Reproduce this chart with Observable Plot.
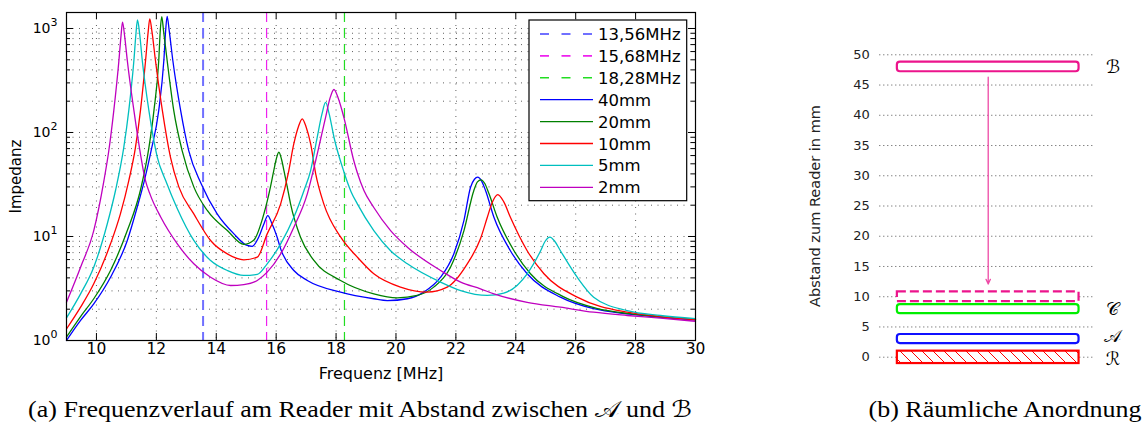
<!DOCTYPE html>
<html><head><meta charset="utf-8">
<script src="https://cdn.jsdelivr.net/npm/d3@7"></script>
<script src="https://cdn.jsdelivr.net/npm/@observablehq/plot@0.6"></script>
<style>
html,body{margin:0;padding:0;background:#fff;}
#root{position:relative;width:1147px;height:426px;overflow:hidden;background:#fff;}
.abs{position:absolute;}
.cap{position:absolute;font-family:"Liberation Serif","Times New Roman",serif;font-size:23px;line-height:23px;white-space:nowrap;transform:translateX(-50%) scaleX(1.13);transform-origin:center;color:#000;}
.math{font-family:"DejaVu Serif","DejaVu Sans","Noto Sans",serif;}
</style></head><body>
<div id="root">
  <div id="left" class="abs" style="left:0;top:0;"></div>
  <div id="legend" class="abs" style="left:528px;top:19px;"></div>
  <div id="right" class="abs" style="left:780px;top:0;"></div>
  <div class="cap" style="left:359.5px;top:397.5px;">(a) Frequenzverlauf am Reader mit Abstand zwischen <span class="math">𝒜</span> und <span class="math">ℬ</span></div>
  <div class="cap" style="left:1005px;top:397.5px;">(b) Räumliche Anordnung</div>
</div>
<script>
// ---------- data: left chart ----------
const freqTicks = [10, 12, 14, 16, 18, 20, 22, 24, 26, 28, 30];
const impedanceDecades = [1, 10, 100, 1000];
const decadeExponents = ["0", "1", "2", "3"];
const minorMultipliers = [2, 3, 4, 5, 6, 7, 8, 9];
const seriesNames = ["40mm", "20mm", "10mm", "5mm", "2mm"];
const seriesColors = ["#0000ff", "#008000", "#ff0000", "#00bfbf", "#bf00bf"];
const markerFreqs = [13.56, 15.68, 18.28];
const markerNames = ["13,56MHz", "15,68MHz", "18,28MHz"];
const markerColors = ["#7070ff", "#ee22ee", "#22dd22"];

const curve40mm = [[9.00,1.00],[9.47,1.56],[9.91,2.25],[10.47,4.06],[11.03,9.16],[11.36,19.1],[11.60,34.5],[11.82,66],[12.08,163],[12.25,492],[12.31,950],[12.36,1310],[12.43,950],[12.55,492],[12.81,163],[13.08,67],[13.50,32],[14.03,16.5],[14.59,10.6],[15.03,8.2],[15.20,8.05],[15.42,9.9],[15.59,13.2],[15.72,15.9],[15.85,13.5],[16.03,9.9],[16.15,7.6],[16.59,4.71],[17.04,3.78],[18.15,2.92],[19.26,2.52],[19.71,2.42],[20.38,2.52],[20.93,2.92],[21.49,4.06],[21.93,6.8],[22.27,14.3],[22.49,29.8],[22.62,35.5],[22.73,37.2],[22.85,34.5],[22.99,27.7],[23.27,15.3],[23.82,7.3],[24.38,4.38],[25.49,2.61],[26.60,2.02],[27.72,1.80],[28.83,1.67],[30.00,1.58]];
const curve20mm = [[9.00,1.08],[9.47,1.70],[9.91,2.52],[10.47,4.71],[11.03,11.4],[11.47,28],[11.75,71],[11.92,163],[12.08,492],[12.13,950],[12.18,1300],[12.24,950],[12.36,492],[12.58,163],[12.86,67],[13.25,30],[13.70,17.8],[14.37,11.4],[14.92,8.4],[15.25,9.2],[15.59,16.5],[15.81,30],[15.92,43],[16.00,55],[16.09,64.6],[16.18,55],[16.26,43],[16.37,30],[16.48,20.6],[16.81,9.9],[17.26,5.88],[18.15,3.78],[19.26,2.81],[20.04,2.57],[20.71,2.71],[21.26,3.26],[21.82,5.07],[22.27,11.4],[22.60,27.7],[22.72,33.5],[22.84,35.1],[22.96,32.5],[23.10,26],[23.38,15.3],[23.94,7.3],[24.49,4.38],[25.60,2.63],[26.70,2.04],[27.80,1.81],[28.90,1.68],[30.00,1.59]];
const curve10mm = [[9.00,1.29],[9.47,2.09],[9.91,3.51],[10.47,8.5],[10.80,16.5],[11.08,34.5],[11.30,71],[11.47,163],[11.64,492],[11.73,950],[11.78,1240],[11.85,950],[11.97,492],[12.20,163],[12.47,58],[12.75,30],[13.25,16.5],[13.81,9.16],[14.37,6.8],[14.92,5.97],[15.37,6.33],[15.70,10.6],[16.15,20.6],[16.40,40],[16.59,78],[16.74,113],[16.87,135.5],[17.00,113],[17.15,78],[17.32,40],[17.59,20.6],[18.15,9.9],[18.71,6.33],[19.26,4.38],[20.15,3.26],[21.04,2.92],[21.71,3.26],[22.38,5.46],[22.82,9.5],[23.05,15.3],[23.22,21.5],[23.40,25.3],[23.60,21.5],[23.82,15.3],[24.38,7.3],[24.94,4.38],[26.05,2.61],[27.72,1.87],[28.85,1.70],[30.00,1.58]];
const curve5mm = [[9.00,1.65],[9.47,2.81],[9.91,5.07],[10.36,13.2],[10.64,28],[10.91,71],[11.08,163],[11.25,492],[11.32,900],[11.37,1211],[11.44,900],[11.53,492],[11.75,163],[12.03,58],[12.31,34.5],[12.70,18.5],[13.25,9.16],[13.81,5.88],[14.37,4.71],[14.92,4.22],[15.37,4.32],[15.70,5.46],[16.15,8.5],[16.59,15.3],[16.93,27.7],[17.15,43],[17.37,90],[17.53,151],[17.65,195],[17.77,151],[17.93,90],[18.26,42],[18.50,27],[18.71,20.6],[19.26,11.4],[19.82,7.3],[20.38,5.46],[21.49,3.64],[22.16,3.02],[23.05,2.71],[23.60,2.85],[24.38,4.38],[24.83,7.3],[24.98,9.0],[25.14,9.86],[25.30,9.0],[25.49,7.3],[26.05,4.06],[26.60,2.61],[27.72,1.94],[28.83,1.74],[30.00,1.62]];
const curve2mm = [[9.00,2.33],[9.47,5.07],[9.91,11.4],[10.25,34.5],[10.41,66],[10.58,163],[10.75,492],[10.82,850],[10.87,1150],[10.94,850],[11.03,492],[11.25,163],[11.47,62],[11.62,36],[11.80,25],[12.14,15.5],[12.70,8.5],[13.25,5.46],[13.81,4.06],[14.48,3.38],[14.92,3.45],[15.37,3.78],[15.70,4.54],[16.15,6.8],[16.59,12.3],[17.04,25.7],[17.32,53.8],[17.65,140],[17.80,215],[17.93,259],[18.07,215],[18.26,140],[18.59,53.8],[18.71,41],[18.93,27.7],[19.26,19],[19.82,11.4],[20.38,7.9],[21.49,4.71],[22.16,3.64],[22.82,3.14],[23.27,2.81],[24.38,2.33],[25.49,2.09],[26.60,1.87],[27.72,1.74],[28.83,1.64],[30.00,1.53]];

// ---------- data: right chart ----------
const distTicks = [0, 5, 10, 15, 20, 25, 30, 35, 40, 45, 50];
const layerNames = ["B", "B (bewegt)", "C", "A", "R"];
const layerBottom = [47.2, 9.2, 7.2, 2.25, -1.05];
const layerTop = [48.8, 10.8, 8.7, 3.75, 1.0];
const layerStart = 0, layerEnd = 30;
const labelTexts = ["ℬ", "𝒞", "𝒜", "ℛ"];
const labelDist = [48.0, 7.9, 3.4, -0.4];
const labelPos = 35.6;
const arrowFrom = 46.3, arrowTo = 12.1, arrowPos = 15;

// ---------- left chart ----------
const curves = [curve40mm, curve20mm, curve10mm, curve5mm, curve2mm];
const minorTicks = impedanceDecades.slice(0, 3).flatMap(d => minorMultipliers.map(m => m * d));
const yGrid = impedanceDecades.slice(1).concat(minorTicks);
const gridStyle = {stroke: "#222", strokeOpacity: 0.8, strokeDasharray: "1,5.5", strokeWidth: 0.9};

const leftChart = Plot.plot({
  width: 720, height: 395,
  marginLeft: 66, marginRight: 25, marginTop: 12, marginBottom: 55,
  x: {domain: [9, 30], axis: null},
  y: {type: "log", domain: [1, 1425], axis: null},
  style: {fontFamily: "'DejaVu Sans', sans-serif", fontSize: "15px", color: "#000", background: "transparent", overflow: "visible"},
  marks: [
    Plot.ruleX(freqTicks, {x: d => d, ...gridStyle}),
    Plot.ruleY(yGrid, {y: d => d, ...gridStyle}),
    ...markerFreqs.map((f, i) => Plot.ruleX([f], {x: d => d, stroke: markerColors[i], strokeWidth: i === 0 ? 2 : 1.2, strokeDasharray: "10,6"})),
    ...curves.map((c, i) => Plot.line(c, {x: d => d[0], y: d => d[1], stroke: seriesColors[i], strokeWidth: 1.3, curve: "monotone-x"})),
    Plot.tickX(freqTicks, {x: d => d, insetTop: 321, stroke: "#000"}),
    Plot.tickX(freqTicks, {x: d => d, insetBottom: 321, stroke: "#000"}),
    Plot.tickY(impedanceDecades, {y: d => d, insetRight: 622, stroke: "#000"}),
    Plot.tickY(impedanceDecades, {y: d => d, insetLeft: 622, stroke: "#000"}),
    Plot.tickY(minorTicks, {y: d => d, insetRight: 625, stroke: "#000"}),
    Plot.tickY(minorTicks, {y: d => d, insetLeft: 625, stroke: "#000"}),
    Plot.frame({stroke: "#000", strokeWidth: 1.2}),
    Plot.text(freqTicks, {x: d => d, frameAnchor: "bottom", dy: 13, text: d => String(d), fontSize: 15.5}),
    Plot.text(impedanceDecades, {y: d => d, frameAnchor: "left", dx: -16, textAnchor: "end", text: () => "10", fontSize: 14}),
    Plot.text(impedanceDecades, {y: d => d, frameAnchor: "left", dx: -16, dy: -6, textAnchor: "start", text: (d, i) => decadeExponents[i], fontSize: 11}),
    Plot.text(["Frequenz [MHz]"], {frameAnchor: "bottom", dy: 38, text: d => d, fontSize: 16}),
    Plot.text(["Impedanz"], {frameAnchor: "left", dx: -50, rotate: -90, textAnchor: "middle", text: d => d, fontSize: 15})
  ]
});
document.getElementById("left").appendChild(leftChart);

// ---------- legend ----------
const legendEntries = markerNames.map((n, i) => ({name: n, color: markerColors[i], dashed: true, width: i === 0 ? 2 : 1.6}))
  .concat(seriesNames.map((n, i) => ({name: n, color: seriesColors[i], dashed: false, width: 1.3})));
const lg = d3.create("svg").attr("width", 160).attr("height", 184)
  .style("font-family", "'DejaVu Sans', sans-serif").style("font-size", "16.5px");
lg.append("rect").attr("x", 1).attr("y", 1).attr("width", 157.7).attr("height", 180.7)
  .attr("fill", "#fff").attr("stroke", "#000").attr("stroke-width", 1.2);
legendEntries.forEach((e, i) => {
  const cy = 15 + i * 21.9;
  lg.append("line").attr("x1", 12).attr("x2", 65).attr("y1", cy).attr("y2", cy)
    .attr("stroke", e.color).attr("stroke-width", e.width)
    .attr("stroke-dasharray", e.dashed ? "9,12.5" : null);
  lg.append("text").attr("x", 70).attr("y", cy + 6).attr("fill", "#000").text(e.name);
});
document.getElementById("legend").appendChild(lg.node());

// ---------- right chart ----------
const layers = layerNames.map((n, i) => ({name: n, lo: layerBottom[i], hi: layerTop[i], a: layerStart, b: layerEnd}));
const layerColors = ["#ec148c", "#ec148c", "#00ee00", "#1010ff", "#ff0000"];
const rightChart = Plot.plot({
  width: 367, height: 390,
  marginLeft: 99.3, marginRight: 52.7, marginTop: 42.2, marginBottom: 21.2,
  x: {domain: [-2.9, 32.6], axis: null},
  y: {domain: [-2, 52], axis: null},
  style: {fontFamily: "'DejaVu Sans', sans-serif", fontSize: "13px", color: "#222", background: "transparent", overflow: "visible"},
  marks: [
    Plot.ruleY(distTicks, {y: d => d, stroke: "#333", strokeOpacity: 0.85, strokeDasharray: "1,3", strokeWidth: 1}),
    Plot.text(distTicks, {y: d => d, frameAnchor: "left", dx: -10, textAnchor: "end", text: d => String(d), fill: "#222"}),
    Plot.text(["Abstand zum Reader in mm"], {frameAnchor: "left", dx: -64, rotate: -90, textAnchor: "middle", text: d => d, fontSize: 14.5, fill: "#222"}),
    Plot.rect([layers[4]], {x1: "a", x2: "b", y1: "lo", y2: "hi", fill: "url(#hatchR)", stroke: layerColors[4], strokeWidth: 2.2}),
    Plot.rect([layers[3]], {x1: "a", x2: "b", y1: "lo", y2: "hi", fill: "#fff", stroke: layerColors[3], strokeWidth: 2.2, rx: 3}),
    Plot.rect([layers[2]], {x1: "a", x2: "b", y1: "lo", y2: "hi", fill: "#fff", stroke: layerColors[2], strokeWidth: 2.2, rx: 3}),
    Plot.rect([layers[1]], {x1: "a", x2: "b", y1: "lo", y2: "hi", fill: "#fff", stroke: layerColors[1], strokeWidth: 2.2, strokeDasharray: "9,4"}),
    Plot.rect([layers[0]], {x1: "a", x2: "b", y1: "lo", y2: "hi", fill: "#fff", stroke: layerColors[0], strokeWidth: 2.2, rx: 3}),
    Plot.arrow([0], {x1: () => arrowPos, x2: () => arrowPos, y1: () => arrowFrom, y2: () => arrowTo, stroke: "#ee4aa6", strokeWidth: 1.3, headLength: 6, headAngle: 50}),
    Plot.text(labelTexts, {x: () => labelPos, y: (d, i) => labelDist[i], text: d => d, fontSize: 18, fill: "#000", fontFamily: "'DejaVu Serif','DejaVu Sans','Noto Sans',serif"})
  ]
});
const defs = d3.select(rightChart).insert("defs", ":first-child");
const pat = defs.append("pattern").attr("id", "hatchR").attr("patternUnits", "userSpaceOnUse").attr("width", 11).attr("height", 11);
pat.append("rect").attr("width", 11).attr("height", 11).attr("fill", "#fff");
pat.append("path").attr("d", "M-1,-1 L12,12 M-6.5,4.5 L6.5,17.5 M4.5,-6.5 L17.5,6.5").attr("stroke", "#ff0000").attr("stroke-width", 1);
document.getElementById("right").appendChild(rightChart);
</script>
</body></html>
